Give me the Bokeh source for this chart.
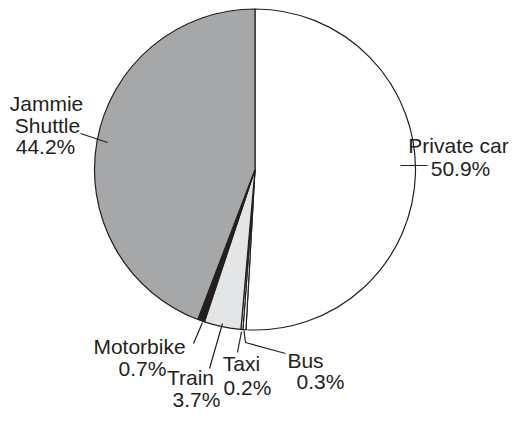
import numpy as np
from bokeh.plotting import figure
from bokeh.models import Range1d, ColumnDataSource
from bokeh.core.properties import value
from bokeh.embed import file_html
from bokeh.resources import INLINE

# ---- data ----
categories = ["Private car", "Bus", "Taxi", "Train", "Motorbike", "Jammie Shuttle"]
shares = [50.9, 0.3, 0.2, 3.7, 0.7, 44.2]
name_lines = [["Private car"], ["Bus"], ["Taxi"], ["Train"], ["Motorbike"], ["Jammie", "Shuttle"]]

# ---- styles / layout ----
colors = ["#ffffff", "#ffffff", "#ffffff", "#e4e5e7", "#231f20", "#a6a7a9"]
ink = "#231f20"
FONT = "Liberation Sans"
FSIZE = "21px"
BASE_ADJ = -7  # renderer places text slightly lower than the anchor
cx, cy, R = 254.5, -169.0, 160.5

# per-category label line anchors (x, baseline y in pixels)
label_pos = [
    [(458, 152), (460, 175)],
    [(305, 367), (320, 388)],
    [(241, 370), (247, 394)],
    [(190, 384), (196, 406)],
    [(139, 353), (142, 375)],
    [(46, 110), (47, 132), (45, 153)],
]
leaders = [
    [(400, 165), (427, 165)],
    [(243.5, 330), (245, 342), (285, 353)],
    [(241, 331), (237, 352)],
    [(222, 323), (209, 368)],
    [(202, 322), (193, 343)],
    [(80, 133), (107, 142)],
]

p = figure(width=509, height=412, output_backend="svg", toolbar_location=None,
           x_range=Range1d(0, 509), y_range=Range1d(-412, 0),
           min_border=0, outline_line_color=None)
p.axis.visible = False
p.grid.visible = False
p.background_fill_color = "white"
p.border_fill_color = "white"

frac = np.array(shares) / np.sum(shares)
cum = np.concatenate([[0], np.cumsum(frac)])
start = np.pi / 2 - 2 * np.pi * cum[:-1]
end = np.pi / 2 - 2 * np.pi * cum[1:]

src = ColumnDataSource(dict(start=start, end=end, color=colors, cat=categories))
p.wedge(x=cx, y=cy, radius=R, start_angle="start", end_angle="end", direction="clock",
        fill_color="color", line_color=ink, line_width=1.2, source=src)

# leader lines
p.multi_line(xs=[[pt[0] for pt in l] for l in leaders],
             ys=[[-pt[1] for pt in l] for l in leaders],
             line_color=ink, line_width=1.2)

# labels
tx, ty, tt = [], [], []
for lines, v, pos in zip(name_lines, shares, label_pos):
    all_lines = lines + [f"{v}%"]
    for t, (x, y) in zip(all_lines, pos):
        tx.append(x)
        ty.append(-(y + BASE_ADJ))
        tt.append(t)
p.text(x=tx, y=ty, text=tt, text_align="center", text_baseline="alphabetic",
       text_font=value(FONT), text_font_size=FSIZE, text_color=ink)

open("out.html", "w").write(file_html(p, INLINE))
